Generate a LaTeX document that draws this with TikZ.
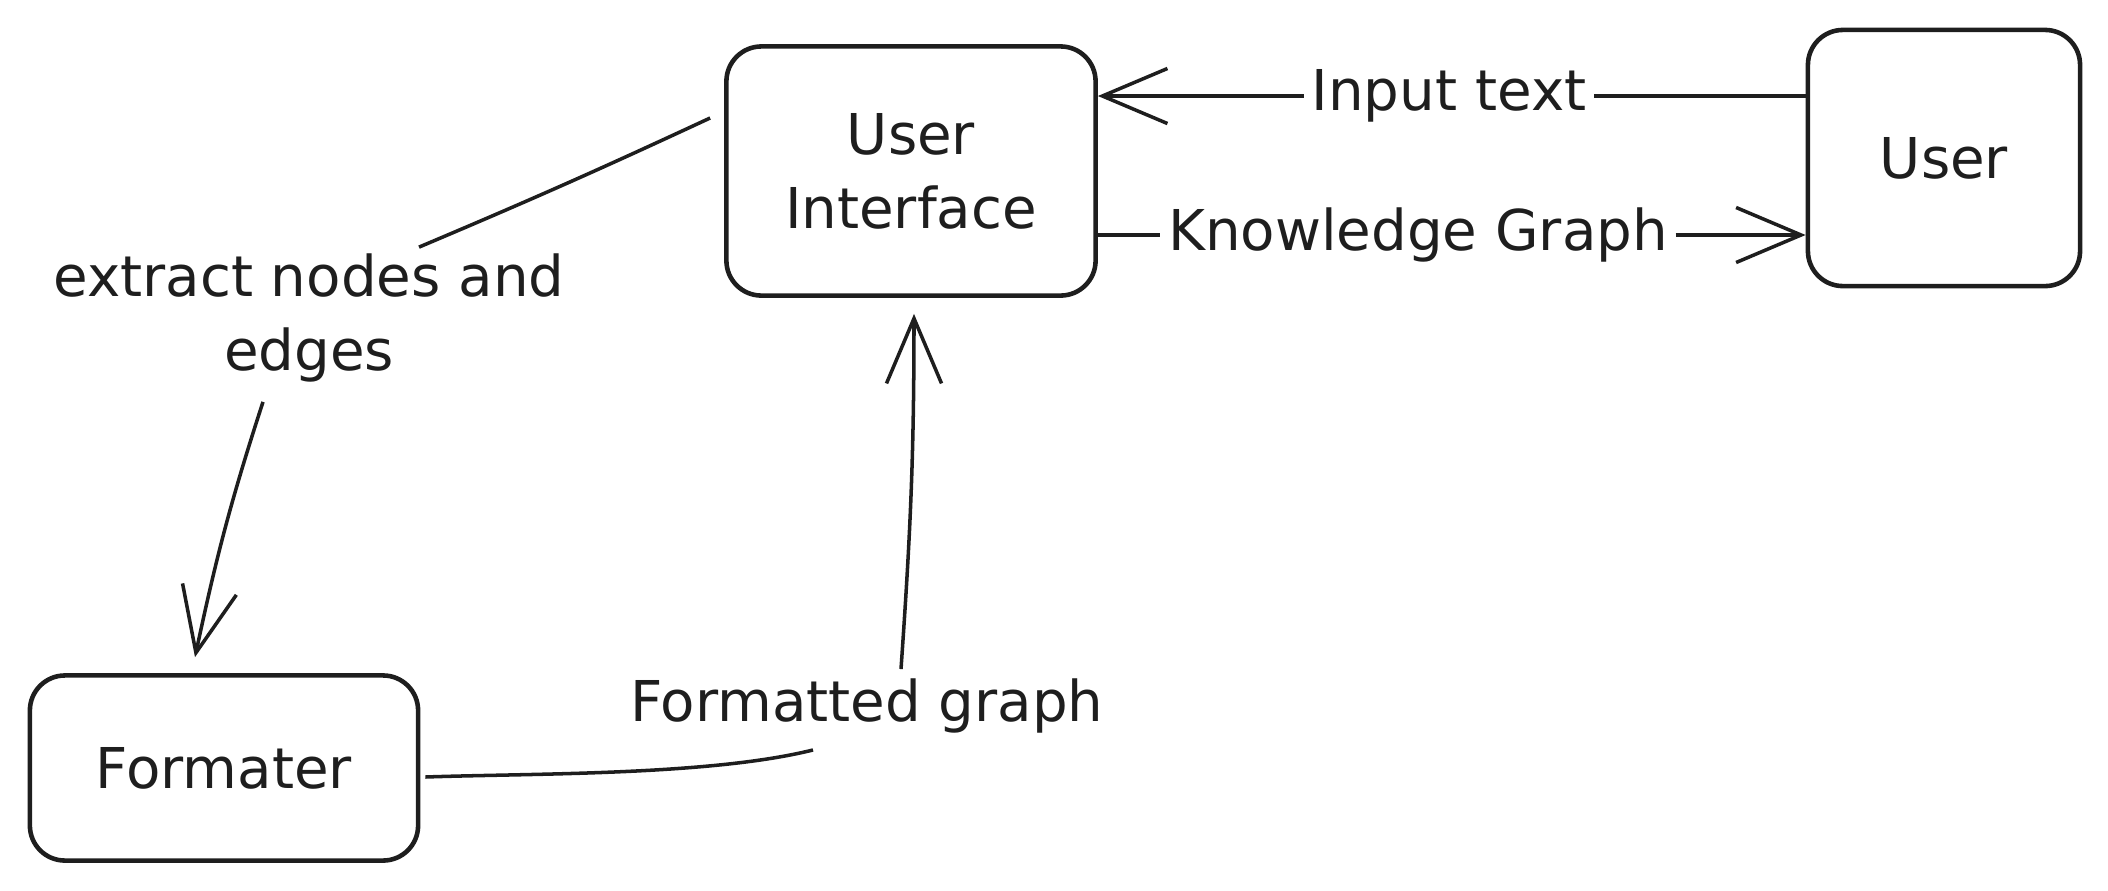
\documentclass[tikz,border=0pt]{standalone}
\usepackage{fontspec}
\setmainfont{DejaVu Sans}
\usetikzlibrary{arrows.meta}
\definecolor{ink}{HTML}{1E1E1E}
\tikzset{
  box/.style={draw=ink, line width=1.3pt, rounded corners=0.35cm, align=center, text=ink,
    font=\fontsize{16}{21}\selectfont},
  lbl/.style={text=ink, align=center, inner sep=2pt, font=\fontsize{16}{21}\selectfont},
  wire/.style={draw=ink, line width=1pt},
  arr/.style={wire, -{Straight Barb[length=6.5mm,width=5.5mm,line width=1pt]}}
}
\begin{document}
\begin{tikzpicture}[x=0.01cm,y=-0.01cm]
    \useasboundingbox (0,0) rectangle (2108,890);

    \path (911,171) node[box, minimum width=3.69cm, minimum height=2.49cm] (ui) {User\\Interface};
    \path (1944,158) node[box, minimum width=2.72cm, minimum height=2.56cm] (usr) {User};
    \path (224,768) node[box, minimum width=3.88cm, minimum height=1.85cm] (fmt) {Formater};

    \path (1449,96) node[lbl] (inp) {Input text};
    \path (1418,235) node[lbl] (kg) {Knowledge Graph};
    \path (309,318) node[lbl] (ext) {extract nodes and\\edges};
    \path (867,706) node[lbl] (fg) {Formatted graph};

    \draw[wire] (usr.west |- inp) --(inp.east);
    \draw[arr] (inp.west) --(ui.east |- inp);

    \draw[wire] (ui.east |- kg) --(kg.west);
    \draw[arr] (kg.east) --(usr.west |- kg);

    \draw[wire] ([shift={(-14,-53)}]ui.west) to[bend left=1] ([shift={(110,1)}]ext.north);
    \draw[arr] ([shift={(-46,12)}]ext.south) to[out=-108,in=78] ([shift={(-29,-16)}]fmt.north);

    \draw[wire] ([shift={(5,9)}]fmt.east) to[out=2,in=194,looseness=0.7] ([shift={(-54,9)}]fg.south);
    \draw[arr] ([shift={(34,-2)}]fg.north) to[out=86,in=-90] ([shift={(3,16)}]ui.south);
\end{tikzpicture}
\end{document}
